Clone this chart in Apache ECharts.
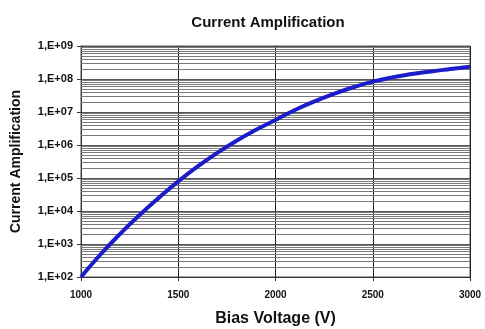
<!DOCTYPE html>
<html>
<head>
<meta charset="utf-8">
<script src="https://cdn.jsdelivr.net/npm/echarts@6/dist/echarts.min.js"></script>
<style>html,body{margin:0;padding:0;background:#fff}#c{width:485px;height:329px}</style>
</head>
<body>
<div id="c"></div>
<script>
var voltages = [1000,1100,1200,1300,1400,1500,1600,1700,1800,1900,2000,2100,2200,2300,2400,2500,2600,2700,2800,2900,3000];
var amplification = [1.0e2,4.8e2,2.0e3,7.4e3,2.5e4,7.9e4,2.24e5,5.75e5,1.35e6,2.88e6,5.75e6,1.15e7,2.09e7,3.55e7,5.62e7,8.3e7,1.12e8,1.41e8,1.70e8,2.0e8,2.34e8];
var decades = [1e2,1e3,1e4,1e5,1e6,1e7,1e8];
var minorFactors = [2,3,4,5,6,7,8,9];
var titleText = 'Current Amplification';
var xName = 'Bias Voltage (V)';
var yName = 'Current Amplification';

var minorLines = [];
decades.forEach(function(d){ minorFactors.forEach(function(f){ minorLines.push({yAxis: d*f}); }); });

var FONT = 'Liberation Sans, Arial, sans-serif';
var chart = echarts.init(document.getElementById('c'));
chart.setOption({
  animation: false,
  backgroundColor: '#fff',
  title: {text: titleText, left: 263, top: 10, textAlign: 'center',
    textStyle: {fontFamily: FONT, fontSize: 15, fontWeight: 'bold', color: '#111'}},
  grid: {left: 81, right: 15, top: 46, bottom: 52, containLabel: false, outerBoundsMode: 'none',
    show: true, borderColor: '#555', borderWidth: 1, backgroundColor: '#fff'},
  xAxis: {type: 'value', min: 1000, max: 3000, interval: 500,
    name: xName, nameLocation: 'middle', nameGap: 34,
    nameTextStyle: {fontFamily: FONT, fontSize: 16, fontWeight: 'bold', color: '#111'},
    axisLine: {show: true, lineStyle: {color: '#333', width: 1}},
    axisTick: {show: true, length: 4, lineStyle: {color: '#333'}},
    axisLabel: {fontFamily: FONT, fontSize: 10, fontWeight: 'bold', color: '#111', margin: 13,
      formatter: function(v){ return String(v); }},
    splitLine: {show: true, lineStyle: {color: '#222', width: 1}}},
  yAxis: {type: 'log', logBase: 10, min: 1e2, max: 1e9, splitNumber: 7,
    name: yName, nameLocation: 'middle', nameGap: 58, nameRotate: 90,
    nameTextStyle: {fontFamily: FONT, fontSize: 14, fontWeight: 'bold', color: '#111'},
    axisLine: {show: true, lineStyle: {color: '#333', width: 1}},
    axisTick: {show: true, length: 4, lineStyle: {color: '#333'}},
    axisLabel: {fontFamily: FONT, fontSize: 11, fontWeight: 'bold', color: '#111', margin: 8,
      formatter: function(v){ var e = Math.round(Math.log10(v)); return '1,E+' + (e < 10 ? '0' : '') + e; }},
    splitLine: {show: true, lineStyle: {color: '#555', width: 1}}},
  series: [{
    type: 'line', data: voltages.map(function(v,i){ return [v, amplification[i]]; }),
    smooth: true, showSymbol: false, symbol: 'none',
    lineStyle: {color: '#1c1cc8', width: 4}, z: 5,
    markLine: {silent: true, symbol: 'none', label: {show: false}, z: 1,
      lineStyle: {color: '#7a7a7a', width: 1, type: 'solid'}, data: minorLines}
  }]
});
</script>
</body>
</html>
